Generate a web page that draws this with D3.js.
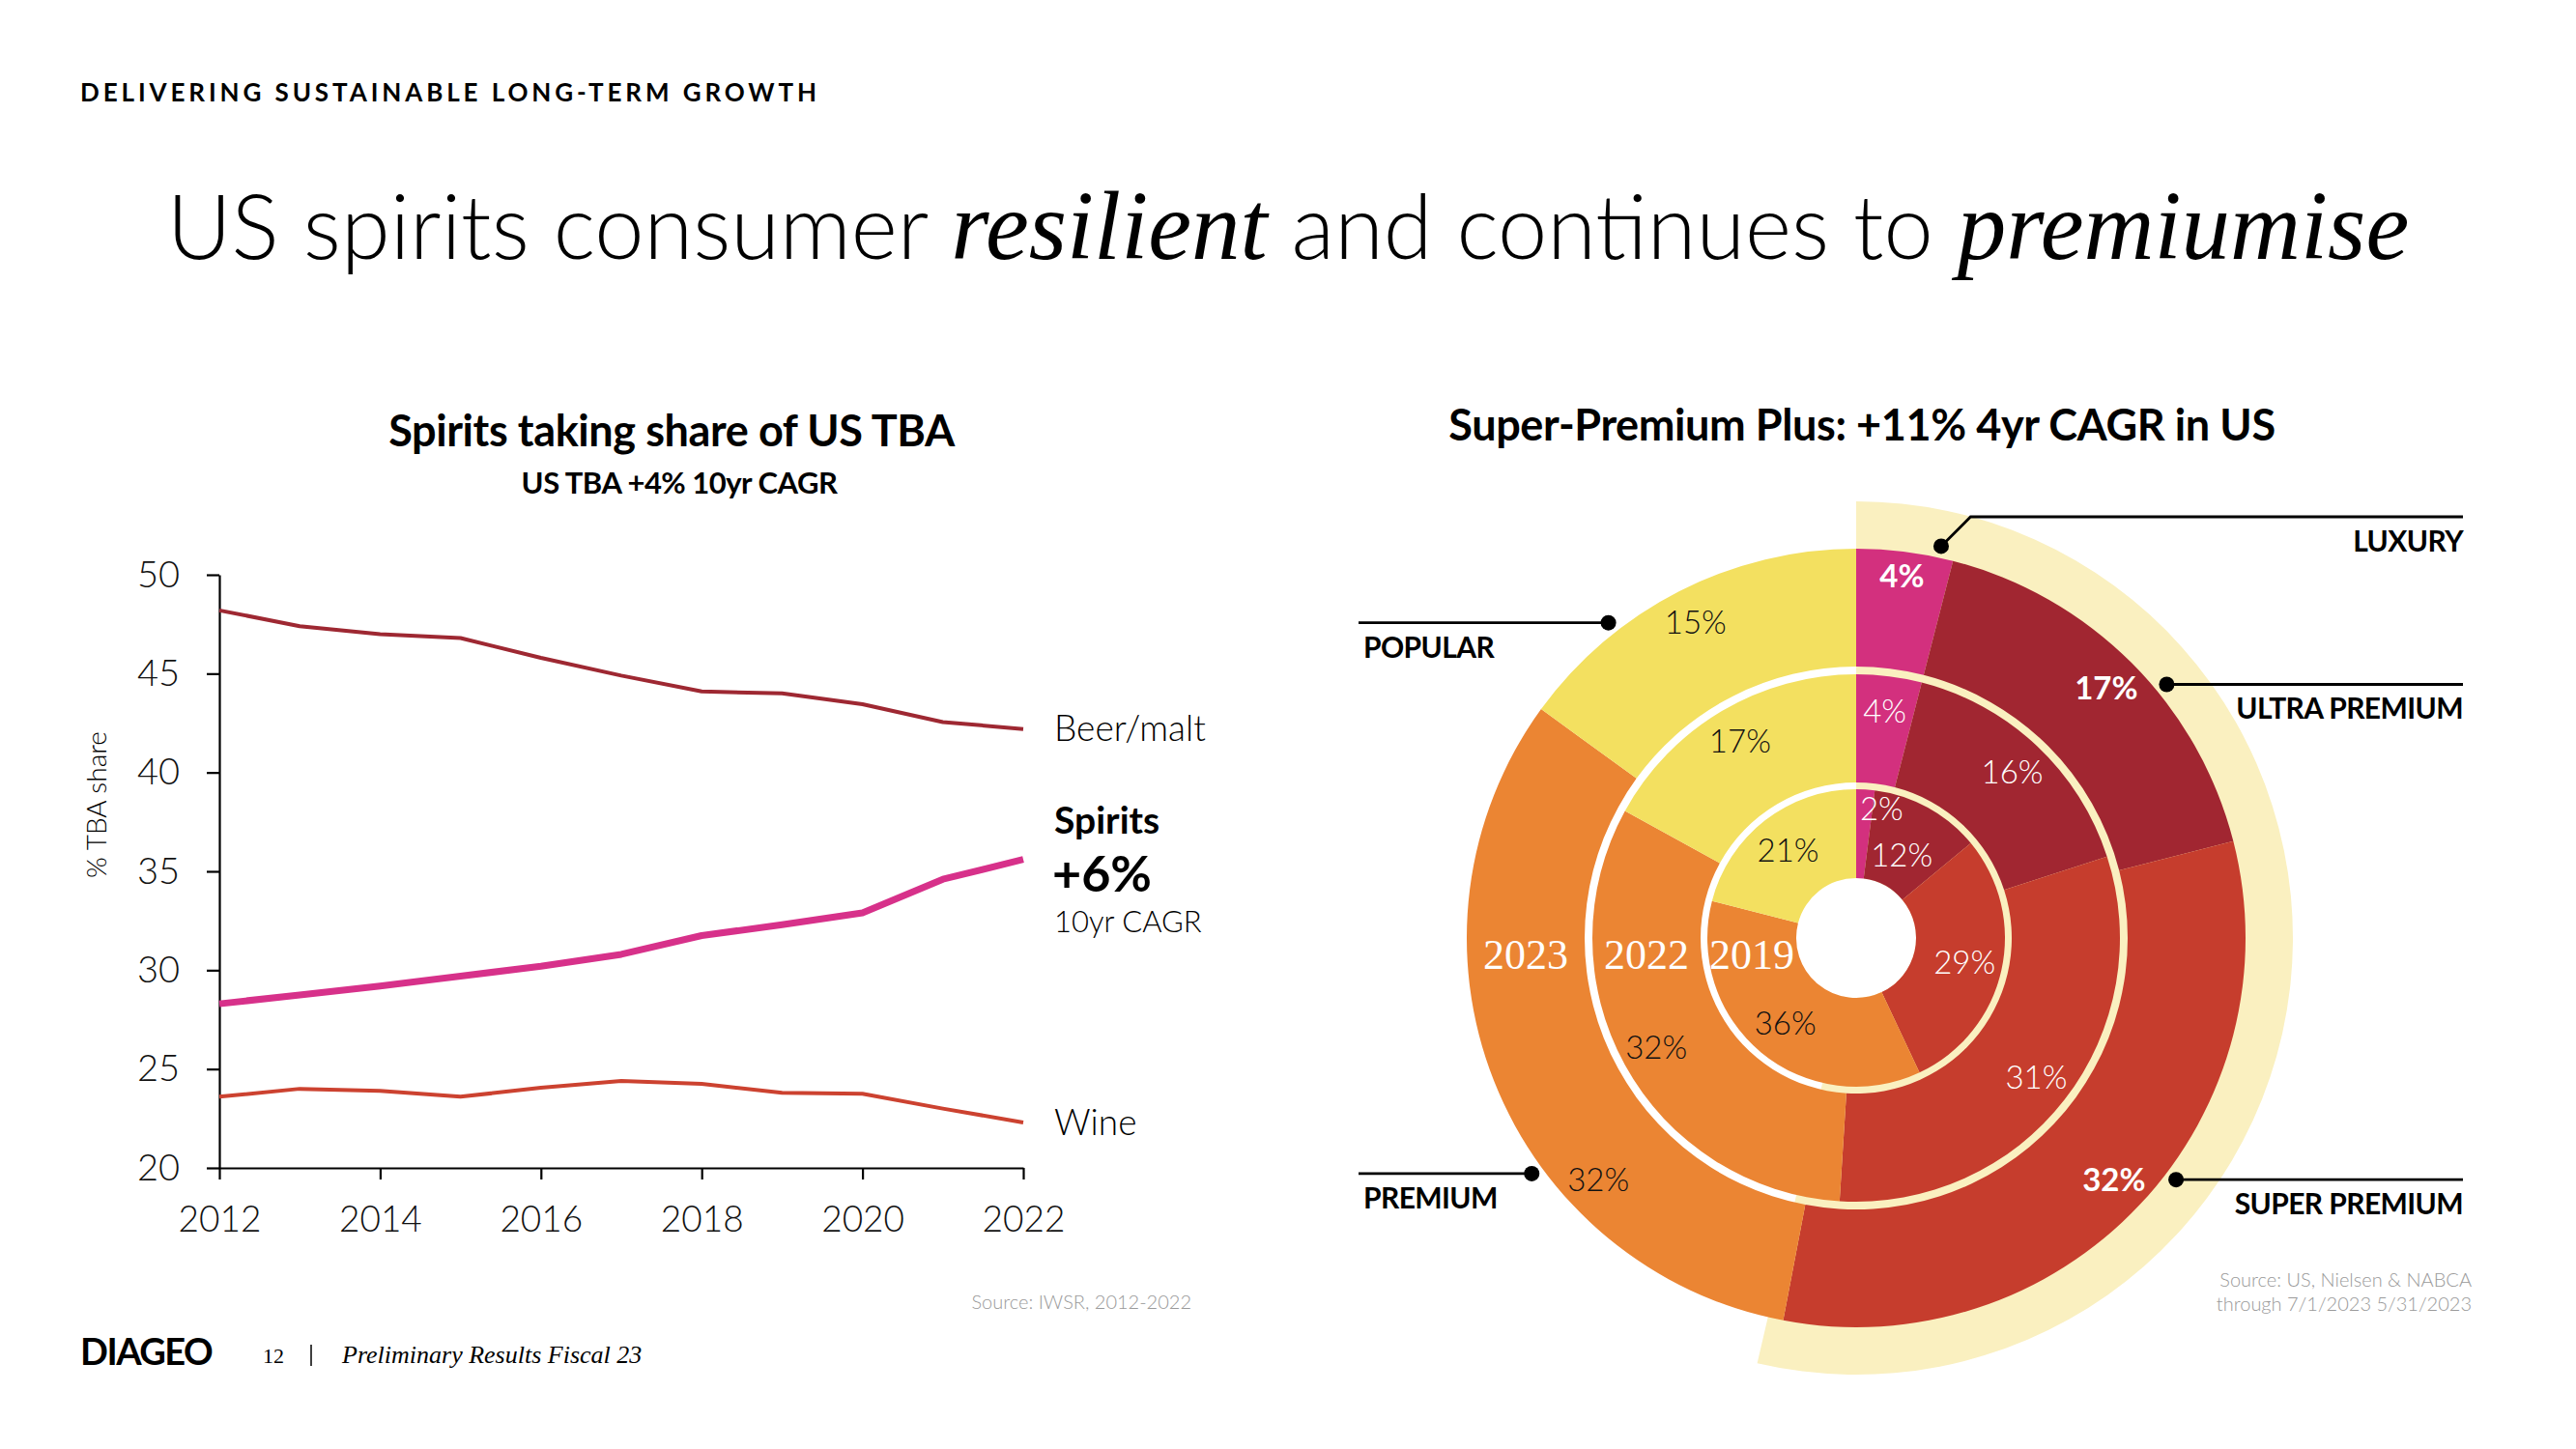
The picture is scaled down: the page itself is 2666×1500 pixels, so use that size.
<!DOCTYPE html>
<html>
<head>
<meta charset="utf-8">
<script src="https://cdn.jsdelivr.net/npm/d3@7"></script>
<style>
	body { margin: 0; background: #fff; }
	svg { display: block; font-family: Lato, "Open Sans", sans-serif; }
</style>
</head>
<body>
<div id="wrapper"></div>
<script>
// ---- line chart data (% of TBA) ----
const years = [2012, 2013, 2014, 2015, 2016, 2017, 2018, 2019, 2020, 2021, 2022];
const beerShare = [48.2, 47.4, 47.0, 46.8, 45.8, 44.9, 44.1, 44.0, 43.45, 42.55, 42.2];
const spiritsShare = [28.3, 28.75, 29.2, 29.7, 30.2, 30.8, 31.75, 32.3, 32.9, 34.6, 35.6];
const wineShare = [23.6, 24.0, 23.9, 23.6, 24.05, 24.4, 24.25, 23.8, 23.75, 23.0, 22.3];
const yTicks = [20, 25, 30, 35, 40, 45, 50];
const xTicks = [2012, 2014, 2016, 2018, 2020, 2022];

// ---- donut data (% share by price tier) ----
const tiers = ["Luxury", "Ultra Premium", "Super Premium", "Premium", "Popular"];
const ringYears = ["2019", "2022", "2023"];
const share2019 = [2, 12, 29, 36, 21];
const share2022 = [4, 16, 31, 32, 17];
const share2023 = [4, 17, 32, 32, 15];
const tierLabels = ["LUXURY", "ULTRA PREMIUM", "SUPER PREMIUM", "PREMIUM", "POPULAR"];

const drawPage = () => {
	const width = 2666;
	const height = 1500;

	const svg = d3
		.select("#wrapper")
		.append("svg")
		.attr("width", width)
		.attr("height", height);

	// header / title
	svg.append("text")
		.attr("x", 83)
		.attr("y", 105)
		.attr("font-size", 26)
		.attr("font-weight", 700)
		.attr("letter-spacing", 3.9)
		.text("DELIVERING SUSTAINABLE LONG-TERM GROWTH");

	const title = svg.append("text")
		.attr("x", width / 2)
		.attr("y", 268)
		.attr("text-anchor", "middle")
		.attr("font-size", 92)
		.attr("font-weight", 300);
	title.append("tspan").text("US spirits consumer ");
	title.append("tspan")
		.attr("font-family", "'Liberation Serif', serif")
		.attr("font-style", "italic")
		.attr("font-size", 101)
		.text("resilient");
	title.append("tspan").text(" and continues to ");
	title.append("tspan")
		.attr("font-family", "'Liberation Serif', serif")
		.attr("font-style", "italic")
		.attr("font-size", 101)
		.text("premiumise");

	// footer
	svg.append("text")
		.attr("x", 83).attr("y", 1413)
		.attr("font-size", 38).attr("font-weight", 700)
		.attr("letter-spacing", -1.5)
		.text("DIAGEO");
	svg.append("text")
		.attr("x", 272).attr("y", 1411)
		.attr("font-family", "'Liberation Serif', serif")
		.attr("font-size", 22)
		.text("12");
	svg.append("line")
		.attr("x1", 322).attr("x2", 322)
		.attr("y1", 1392).attr("y2", 1414)
		.attr("stroke", "#000").attr("stroke-width", 1.5);
	svg.append("text")
		.attr("x", 354).attr("y", 1411)
		.attr("font-family", "'Liberation Serif', serif")
		.attr("font-style", "italic")
		.attr("font-size", 26)
		.text("Preliminary Results Fiscal 23");

	drawLines(svg);
	drawDonut(svg);
};

const drawLines = (svg) => {
	const dims = { left: 227, right: 1059, top: 595, bottom: 1209 };

	svg.append("text")
		.attr("x", 695).attr("y", 462)
		.attr("text-anchor", "middle")
		.attr("font-size", 45).attr("font-weight", 700)
		.attr("letter-spacing", -0.4)
		.text("Spirits taking share of US TBA");
	svg.append("text")
		.attr("x", 703).attr("y", 511)
		.attr("text-anchor", "middle")
		.attr("font-size", 31).attr("font-weight", 700)
		.attr("letter-spacing", -0.5)
		.text("US TBA +4% 10yr CAGR");

	const xScale = d3.scaleLinear()
		.domain([2012, 2022])
		.range([dims.left, dims.right]);
	const yScale = d3.scaleLinear()
		.domain([20, 50])
		.range([dims.bottom, dims.top]);

	const yAxis = svg.append("g")
		.attr("transform", `translate(${dims.left}, 0)`)
		.call(d3.axisLeft(yScale).tickValues(yTicks).tickSize(13).tickSizeOuter(0).tickPadding(28));
	const xAxis = svg.append("g")
		.attr("transform", `translate(0, ${dims.bottom})`)
		.call(d3.axisBottom(xScale).tickValues(xTicks).tickFormat(d3.format("d")).tickSize(12).tickSizeOuter(0).tickPadding(28));

	[yAxis, xAxis].forEach((ax) => {
		ax.selectAll("path, line").attr("stroke", "#000").attr("stroke-width", 2.2);
		ax.selectAll("text").attr("fill", "#111").attr("font-family", "Lato, sans-serif");
	});
	yAxis.selectAll("text").attr("font-size", 38).attr("font-weight", 300);
	xAxis.selectAll("text").attr("font-size", 37).attr("font-weight", 300);

	svg.append("text")
		.attr("transform", `translate(110, 833) rotate(-90)`)
		.attr("text-anchor", "middle")
		.attr("font-size", 28)
		.attr("font-weight", 300)
		.text("% TBA share");

	const lineGen = d3.line()
		.x((d, i) => xScale(years[i]))
		.y((d) => yScale(d));

	const series = [
		{ values: beerShare, color: "#9E2832", width: 4 },
		{ values: wineShare, color: "#CC4230", width: 4 },
		{ values: spiritsShare, color: "#D7318A", width: 7 },
	];
	series.forEach((s) => {
		svg.append("path")
			.attr("d", lineGen(s.values))
			.attr("fill", "none")
			.attr("stroke", s.color)
			.attr("stroke-width", s.width)
			.attr("stroke-linejoin", "round");
	});

	const labelX = 1091;
	const last = (arr) => arr[arr.length - 1];
	svg.append("text")
		.attr("x", labelX).attr("y", yScale(last(beerShare)) + 12)
		.attr("font-size", 37).attr("font-weight", 300)
		.text("Beer/malt");
	svg.append("text")
		.attr("x", labelX).attr("y", yScale(last(wineShare)) + 13)
		.attr("font-size", 37).attr("font-weight", 300)
		.text("Wine");
	const sy = yScale(last(spiritsShare));
	svg.append("text")
		.attr("x", labelX).attr("y", sy - 27)
		.attr("font-size", 39).attr("font-weight", 700)
		.text("Spirits");
	svg.append("text")
		.attr("x", labelX - 2).attr("y", sy + 33)
		.attr("font-size", 52).attr("font-weight", 700)
		.text("+6%");
	svg.append("text")
		.attr("x", labelX).attr("y", sy + 75)
		.attr("font-size", 31).attr("font-weight", 300)
		.text("10yr CAGR");

	svg.append("text")
		.attr("x", 1233).attr("y", 1355)
		.attr("text-anchor", "end")
		.attr("font-size", 20).attr("font-weight", 300)
		.attr("fill", "#9a9a9a")
		.text("Source: IWSR, 2012-2022");
};

const drawDonut = (svg) => {
	const cx = 1921;
	const cy = 971;
	const colors = ["#D3307E", "#A12631", "#C63D2D", "#EB8533", "#F3E060"];
	const textColors = ["#fff", "#fff", "#fff", "#111", "#111"];

	svg.append("text")
		.attr("x", 1927).attr("y", 456)
		.attr("text-anchor", "middle")
		.attr("font-size", 45).attr("font-weight", 700)
		.attr("letter-spacing", -0.4)
		.text("Super-Premium Plus: +11% 4yr CAGR in US");

	const g = svg.append("g").attr("transform", `translate(${cx}, ${cy})`);

	// highlight band behind the Super-Premium Plus tiers of 2023
	const pie = d3.pie().sort(null).value((d) => d);
	const arcs2023 = pie(share2023);
	g.append("path")
		.attr("d", d3.arc()({
			innerRadius: 62,
			outerRadius: 452,
			startAngle: 0,
			endAngle: arcs2023[2].endAngle + 0.04,
		}))
		.attr("fill", "#FAF0C0");

	const rings = [
		{ year: ringYears[0], values: share2019, r0: 62, r1: 154, labelR: 115 },
		{ year: ringYears[1], values: share2022, r0: 161, r1: 273, labelR: 236 },
		{ year: ringYears[2], values: share2023, r0: 281, r1: 403, labelR: 366 },
	];
	// small label nudges: "ring-tier" -> angle shift (fraction of turn), radius
	const labelNudge = {
		"0-0": { da: 0.021, r: 136 },
		"0-1": { r: 98 },
		"2-0": { r: 378 },
		"2-3": { da: -0.06 },
	};

	const polar = (r, a) => [r * Math.sin(a), -r * Math.cos(a)];

	rings.forEach((ring, ri) => {
		const arcGen = d3.arc().innerRadius(ring.r0).outerRadius(ring.r1);
		const slices = pie(ring.values);
		g.selectAll(null)
			.data(slices)
			.join("path")
			.attr("d", arcGen)
			.attr("fill", (d, i) => colors[i]);

		slices.forEach((d, i) => {
			const nudge = labelNudge[`${ri}-${i}`] || {};
			const a = (d.startAngle + d.endAngle) / 2 + (nudge.da || 0) * 2 * Math.PI;
			const [x, y] = polar(nudge.r || ring.labelR, a);
			const bold = ri === 2 && i < 3;
			g.append("text")
				.attr("x", x).attr("y", y)
				.attr("dy", "0.35em")
				.attr("text-anchor", "middle")
				.attr("font-size", 33)
				.attr("font-weight", bold ? 700 : 300)
				.attr("fill", textColors[i])
				.text(`${ring.values[i]}%`);
		});

		g.append("text")
			.attr("x", -(ring.r0 + ring.r1) / 2)
			.attr("y", 32)
			.attr("text-anchor", "middle")
			.attr("font-family", "'Liberation Serif', serif")
			.attr("font-size", 44)
			.attr("fill", "#fff")
			.text(ring.year);
	});

	// callouts
	const callouts = [
		{ tier: 0, at: 0.034, side: "right", lineY: 535 },
		{ tier: 1, at: 0.141, side: "right" },
		{ tier: 2, at: 0.353, side: "right" },
		{ tier: 3, at: 0.65, side: "left" },
		{ tier: 4, at: 0.894, side: "left" },
	];
	const dotR = 415;
	const rightX = 2549;
	const leftX = 1406;
	callouts.forEach((c) => {
		const [dx, dy] = polar(dotR, c.at * 2 * Math.PI);
		const px = cx + dx;
		const py = cy + dy;
		const ly = c.lineY !== undefined ? c.lineY : py;
		const pts = [[px, py]];
		if (c.lineY !== undefined) pts.push([px + (py - ly), ly]);
		pts.push([c.side === "right" ? rightX : leftX, ly]);
		svg.append("path")
			.attr("d", d3.line()(pts))
			.attr("fill", "none")
			.attr("stroke", "#000")
			.attr("stroke-width", 2.8);
		svg.append("circle")
			.attr("cx", px).attr("cy", py).attr("r", 8)
			.attr("fill", "#000");
		svg.append("text")
			.attr("x", c.side === "right" ? rightX : leftX + 5)
			.attr("y", ly + 36)
			.attr("text-anchor", c.side === "right" ? "end" : "start")
			.attr("font-size", 30)
			.attr("font-weight", 700)
			.attr("letter-spacing", -0.6)
			.text(tierLabels[c.tier]);
	});

	const src = svg.append("text")
		.attr("text-anchor", "end")
		.attr("font-size", 20).attr("font-weight", 300)
		.attr("fill", "#9a9a9a");
	src.append("tspan").attr("x", 2558).attr("y", 1332).text("Source: US, Nielsen & NABCA");
	src.append("tspan").attr("x", 2558).attr("y", 1357).text("through 7/1/2023 5/31/2023");
};

drawPage();
</script>
</body>
</html>
